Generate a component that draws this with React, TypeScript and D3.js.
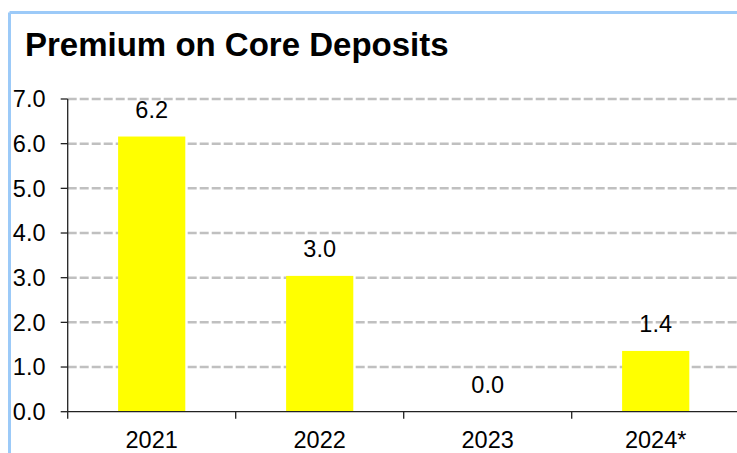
import React from "react";
import * as d3 from "d3";

const categories = ["2021", "2022", "2023", "2024*"];
const values = [6.16, 3.04, 0.0, 1.36];
const yTicks = [0, 1, 2, 3, 4, 5, 6, 7];
const title = "Premium on Core Deposits";

const W = 737;
const H = 453;
const FONT = "'Liberation Sans', Arial, Helvetica, sans-serif";
const LABEL_SIZE = 23.5;

export default function App() {
  const x0 = 67.7;
  const x1 = 739.7;
  const yBottom = 411.7;
  const yTop = 99;
  const y = d3.scaleLinear().domain([0, 7]).range([yBottom, yTop]);
  const x = d3
    .scaleBand<string>()
    .domain(categories)
    .range([x0, x1])
    .paddingInner(0.6)
    .paddingOuter(0.3);
  const step = x.step();
  const fmt = d3.format(".1f");

  return (
    <svg
      width={W}
      height={H}
      style={{ position: "absolute", left: 0, top: 0, background: "#fff" }}
      fontFamily={FONT}
    >
      <rect x={0} y={0} width={W} height={H} fill="#fff" />
      {/* frame */}
      <line x1={9.5} y1={12.5} x2={W} y2={12.5} stroke="#9ccaf8" strokeWidth={3} />
      <line x1={9.5} y1={12.5} x2={9.5} y2={H} stroke="#9ccaf8" strokeWidth={3} />

      <text x={25} y={56} fontSize={33} fontWeight="bold" fill="#000">
        {title}
      </text>

      {/* gridlines */}
      {yTicks
        .filter((t) => t > 0)
        .map((t) => (
          <line
            key={"g" + t}
            x1={x0}
            x2={W}
            y1={y(t)}
            y2={y(t)}
            stroke="#c0c0c0"
            strokeWidth={2.5}
            strokeDasharray="9 3"
          />
        ))}

      {/* bars */}
      {categories.map((c, i) => (
        <rect
          key={c}
          x={x(c)}
          y={y(values[i])}
          width={x.bandwidth()}
          height={yBottom - y(values[i])}
          fill="#ffff00"
        />
      ))}

      {/* y axis */}
      <line x1={x0} x2={x0} y1={yTop} y2={yBottom} stroke="#222" strokeWidth={1.3} />
      {yTicks.map((t) => (
        <g key={"t" + t}>
          <line x1={x0 - 7} x2={x0} y1={y(t)} y2={y(t)} stroke="#222" strokeWidth={1.3} />
          <text
            x={45.5}
            y={y(t)}
            dy="0.36em"
            textAnchor="end"
            fontSize={LABEL_SIZE}
            fill="#000"
          >
            {fmt(t)}
          </text>
        </g>
      ))}

      {/* x axis */}
      <line x1={x0} x2={W} y1={yBottom} y2={yBottom} stroke="#222" strokeWidth={1.3} />
      {d3.range(categories.length + 1).map((i) => (
        <line
          key={"xt" + i}
          x1={x0 + i * step}
          x2={x0 + i * step}
          y1={yBottom}
          y2={yBottom + 7}
          stroke="#222"
          strokeWidth={1.3}
        />
      ))}
      {categories.map((c) => (
        <text
          key={"xl" + c}
          x={(x(c) as number) + x.bandwidth() / 2}
          y={448}
          textAnchor="middle"
          fontSize={LABEL_SIZE}
          fill="#000"
        >
          {c}
        </text>
      ))}

      {/* value labels */}
      {categories.map((c, i) => (
        <text
          key={"vl" + c}
          x={(x(c) as number) + x.bandwidth() / 2}
          y={y(values[i]) - 19}
          textAnchor="middle"
          fontSize={LABEL_SIZE}
          fill="#000"
        >
          {fmt(values[i])}
        </text>
      ))}
    </svg>
  );
}
